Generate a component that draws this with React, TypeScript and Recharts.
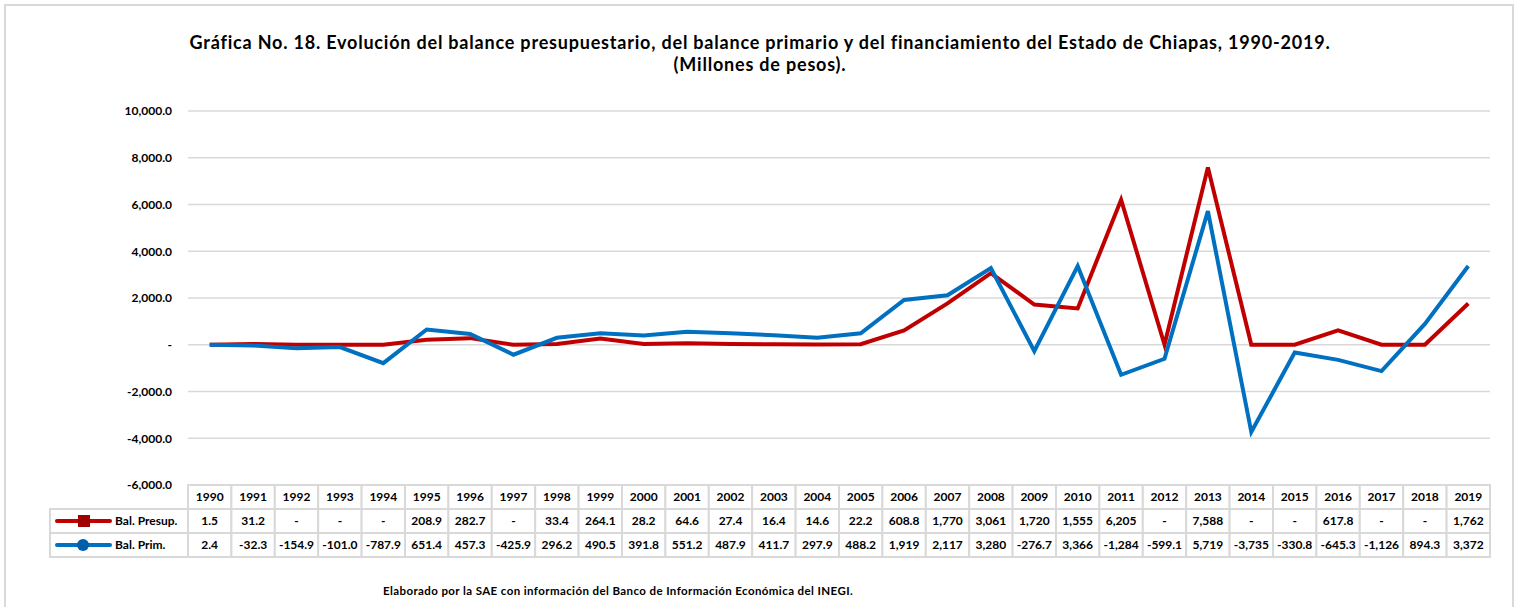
import { LineChart, Line, XAxis, YAxis, CartesianGrid } from 'recharts';

const years = [
  '1990', '1991', '1992', '1993', '1994', '1995', '1996', '1997', '1998', '1999',
  '2000', '2001', '2002', '2003', '2004', '2005', '2006', '2007', '2008', '2009',
  '2010', '2011', '2012', '2013', '2014', '2015', '2016', '2017', '2018', '2019',
];

// "-" in the source table is plotted as 0
const balPresup = [
  1.5, 31.2, 0, 0, 0, 208.9, 282.7, 0, 33.4, 264.1,
  28.2, 64.6, 27.4, 16.4, 14.6, 22.2, 608.8, 1770, 3061, 1720,
  1555, 6205, 0, 7588, 0, 0, 617.8, 0, 0, 1762,
];

const balPrim = [
  2.4, -32.3, -154.9, -101.0, -787.9, 651.4, 457.3, -425.9, 296.2, 490.5,
  391.8, 551.2, 487.9, 411.7, 297.9, 488.2, 1919, 2117, 3280, -276.7,
  3366, -1284, -599.1, 5719, -3735, -330.8, -645.3, -1126, 894.3, 3372,
];

const yTicks = [-6000, -4000, -2000, 0, 2000, 4000, 6000, 8000, 10000];

const seriesNames = ['Bal. Presup.', 'Bal. Prim.'];

const data = years.map((year, i) => ({
  year,
  presup: balPresup[i],
  prim: balPrim[i],
}));

const RED = '#C00000';
const BLUE = '#0070C0';
const GRID = '#D9D9D9';
const FONT = 'Lato, "Open Sans", sans-serif';
const ROW_H = 24;
const LEGEND_LEFT = 50;
const PLOT_W = 1302;
const HALF_COL = PLOT_W / years.length / 2;

function fmtCell(v: number) {
  if (v === 0) return '-';
  if (Math.abs(v) >= 1000) return Math.round(v).toLocaleString('en-US');
  return v.toFixed(1);
}

function fmtAxis(v: number) {
  if (v === 0) return '-';
  return v.toLocaleString('en-US', { minimumFractionDigits: 1, maximumFractionDigits: 1 });
}

function TableTick(props: any) {
  const { x, y, payload, index } = props;
  const count = props.visibleTicksCount || years.length;
  const w = typeof props.width === 'number' ? props.width / count : PLOT_W / years.length;
  const i = index ?? payload.index;
  const left = x - w / 2;
  const txt = { fontFamily: FONT, fontSize: 12, fontWeight: 700, fill: '#000', textAnchor: 'middle' as const };

  const cell = (row: number) => (
    <rect x={left} y={y + row * ROW_H} width={w} height={ROW_H} fill="#fff" stroke={GRID} strokeWidth={2} />
  );

  return (
    <g>
      {i === 0 && (
        <g>
          {[1, 2].map((row) => {
            const cy = y + row * ROW_H + ROW_H / 2;
            const color = row === 1 ? RED : BLUE;
            return (
              <g key={row}>
                <rect x={LEGEND_LEFT} y={y + row * ROW_H} width={left - LEGEND_LEFT} height={ROW_H} fill="#fff" stroke={GRID} strokeWidth={2} />
                <line x1={LEGEND_LEFT + 7} x2={LEGEND_LEFT + 60} y1={cy} y2={cy} stroke={color} strokeWidth={4} strokeLinecap="round" />
                {row === 1 ? (
                  <rect x={LEGEND_LEFT + 28} y={cy - 6} width={12} height={12} fill="#A00000" />
                ) : (
                  <circle cx={LEGEND_LEFT + 33} cy={cy} r={6} fill="#005FA8" />
                )}
                <text x={LEGEND_LEFT + 65} y={cy + 4} style={{ fontFamily: FONT, fontSize: 12, fontWeight: 700 }} fill="#000">
                  {seriesNames[row - 1]}
                </text>
              </g>
            );
          })}
        </g>
      )}
      {cell(0)}
      {cell(1)}
      {cell(2)}
      <text x={x} y={y + ROW_H / 2 + 4} {...txt}>{payload.value}</text>
      <text x={x} y={y + ROW_H * 1.5 + 4} {...txt}>{fmtCell(balPresup[i])}</text>
      <text x={x} y={y + ROW_H * 2.5 + 4} {...txt}>{fmtCell(balPrim[i])}</text>
    </g>
  );
}

export default function App() {
  return (
    <div style={{ position: 'absolute', left: 0, top: 0, width: 1520, height: 607, overflow: 'hidden', background: '#fff' }}>
      <div style={{ position: 'absolute', left: 4, top: 4, width: 1506, height: 640, border: `2px solid ${GRID}` }} />
      <div
        style={{
          position: 'absolute', left: 0, top: 31, width: 1520, textAlign: 'center',
          fontFamily: FONT, fontWeight: 700, fontSize: 18, lineHeight: '22px', color: '#000',
          letterSpacing: 0.8,
        }}
      >
        Gráfica No. 18. Evolución del balance presupuestario, del balance primario y del financiamiento del Estado de Chiapas, 1990-2019.
        <br />
        (Millones de pesos).
      </div>
      <div style={{ position: 'absolute', left: 0, top: 0 }}>
        <LineChart width={1520} height={607} data={data} margin={{ top: 111, right: 30, bottom: 92, left: 108 }}>
          <CartesianGrid vertical={false} stroke={GRID} strokeWidth={1.5} />
          <XAxis
            dataKey="year"
            height={30}
            interval={0}
            padding={{ left: HALF_COL, right: HALF_COL }}
            axisLine={false}
            tickLine={false}
            tickSize={0}
            tickMargin={0}
            tick={<TableTick />}
          />
          <YAxis
            width={80}
            domain={[-6000, 10000]}
            ticks={yTicks}
            axisLine={false}
            tickLine={false}
            tickSize={0}
            tickMargin={16}
            tickFormatter={fmtAxis}
            tick={{ fontFamily: FONT, fontSize: 12, fontWeight: 700, fill: '#000' }}
          />
          <Line type="linear" dataKey="presup" stroke={RED} strokeWidth={4} dot={false} isAnimationActive={false} />
          <Line type="linear" dataKey="prim" stroke={BLUE} strokeWidth={4} dot={false} isAnimationActive={false} />
        </LineChart>
      </div>
      <div
        style={{
          position: 'absolute', left: 383, top: 584, fontFamily: FONT, fontWeight: 700,
          fontSize: 11.5, letterSpacing: 0.4, color: '#000', whiteSpace: 'nowrap',
        }}
      >
        Elaborado por la SAE con información del Banco de Información Económica del INEGI.
      </div>
    </div>
  );
}
